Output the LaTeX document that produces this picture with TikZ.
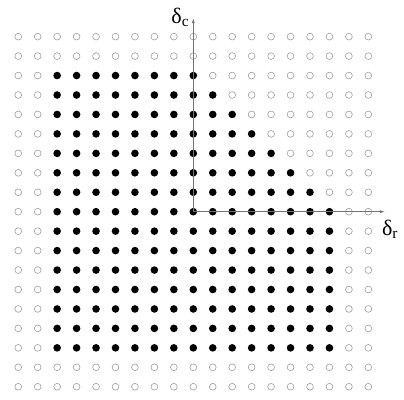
\documentclass[tikz,border=0pt]{standalone}
\usepackage{fontspec}
\setmainfont{Liberation Serif}
\usetikzlibrary{arrows.meta}
\tikzset{
    opendot/.style={draw=gray!75, line width=0.6pt, fill=white},
    fulldot/.style={fill=black},
    axis/.style={-{Latex[length=5pt, width=3pt]}, gray!90!black, line width=0.6pt},
    axislabel/.style={font=\fontsize{22}{22}\selectfont, inner sep=0pt},
}
\begin{document}
\begin{tikzpicture}[x=19.45pt, y=19.45pt]
    \useasboundingbox (-193.3pt,-187.3pt) rectangle (210.7pt,211.7pt);

    % --- grid of sites ---
    \foreach \i in {-9,...,9}
        \foreach \j in {-9,...,9}{
            \pgfmathtruncatemacro{\full}{(abs(\i)<8)*(abs(\j)<8)*(1-(\i>0)*(\j>0)*(\i+\j>7))}
            \ifnum\full=1
                \fill[fulldot] (\i,\j) circle (3.8pt);
            \else
                \draw[opendot] (\i,\j) circle (3.4pt);
            \fi
        }

    % --- axes ---
    \coordinate (O) at (0,0);
    \coordinate (ctip) at (0,9.95);
    \coordinate (rtip) at (9.85,0);
    \draw[axis] (O) -- (ctip);
    \draw[axis] (O) -- (rtip);
    \node[axislabel, anchor=east] (dc) at ([xshift=-4pt, yshift=1pt]ctip) {δ\textsubscript{c}};
    \node[axislabel, anchor=north west] (dr) at ([xshift=-3pt, yshift=-8pt]rtip) {δ\textsubscript{r}};
\end{tikzpicture}
\end{document}
